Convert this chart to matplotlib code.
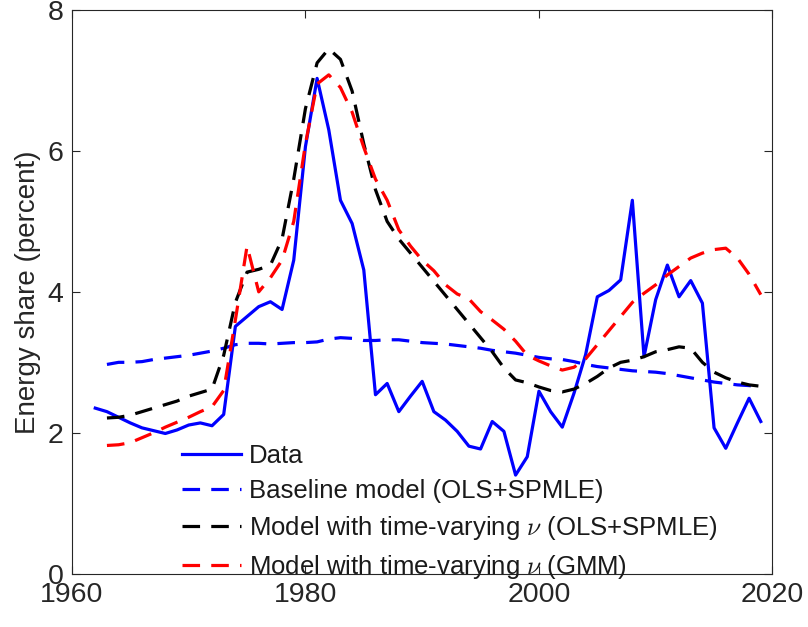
import numpy as np
import matplotlib
matplotlib.use("Agg")
import matplotlib.pyplot as plt

plt.rcParams['font.family'] = ['Liberation Sans', 'DejaVu Sans']
plt.rcParams['mathtext.fontset'] = 'cm'

# Energy share data, 1962-2019
data_years = list(range(1962, 2020))
data_share = [2.35, 2.30, 2.22, 2.14, 2.07, 2.03, 1.99, 2.04, 2.11, 2.14,
              2.10, 2.26, 3.51, 3.65, 3.79, 3.86, 3.75, 4.45, 6.06, 7.03,
              6.30, 5.30, 4.97, 4.31, 2.54, 2.70, 2.30, 2.52, 2.73, 2.30,
              2.18, 2.02, 1.81, 1.77, 2.16, 2.02, 1.40, 1.66, 2.59, 2.30,
              2.08, 2.56, 3.11, 3.93, 4.02, 4.17, 5.30, 3.08, 3.89, 4.38,
              3.93, 4.16, 3.84, 2.07, 1.78, 2.14, 2.49, 2.16]

# model series, 1963-2019
model_years = list(range(1963, 2020))
baseline = [2.97, 3.00, 3.00, 3.01, 3.04, 3.06, 3.08, 3.10, 3.13, 3.16,
            3.20, 3.25, 3.27, 3.27, 3.26, 3.27, 3.28, 3.28, 3.29, 3.33,
            3.35, 3.34, 3.31, 3.31, 3.32, 3.32, 3.30, 3.28, 3.27, 3.26,
            3.24, 3.22, 3.20, 3.17, 3.15, 3.13, 3.10, 3.07, 3.05, 3.04,
            3.01, 2.97, 2.94, 2.92, 2.90, 2.88, 2.87, 2.86, 2.84, 2.81,
            2.78, 2.75, 2.72, 2.70, 2.68, 2.67, 2.65]
tv_ols = [2.21, 2.22, 2.25, 2.30, 2.35, 2.40, 2.45, 2.52, 2.57, 2.62,
          3.10, 3.85, 4.28, 4.32, 4.38, 4.75, 5.60, 6.60, 7.25, 7.45,
          7.30, 6.85, 6.10, 5.45, 5.00, 4.75, 4.55, 4.35, 4.15, 3.95,
          3.75, 3.55, 3.35, 3.15, 2.92, 2.75, 2.71, 2.65, 2.60, 2.58,
          2.62, 2.70, 2.80, 2.92, 3.00, 3.03, 3.08, 3.15, 3.18, 3.22,
          3.20, 3.00, 2.86, 2.78, 2.72, 2.68, 2.66]
tv_gmm = [1.82, 1.83, 1.86, 1.93, 2.00, 2.08, 2.15, 2.22, 2.30, 2.37,
          2.60, 3.60, 4.65, 4.00, 4.20, 4.45, 5.00, 6.10, 6.95, 7.08,
          6.90, 6.55, 6.05, 5.60, 5.30, 4.88, 4.65, 4.45, 4.30, 4.10,
          3.97, 3.90, 3.72, 3.60, 3.47, 3.30, 3.10, 3.02, 2.95, 2.89,
          2.93, 3.05, 3.25, 3.45, 3.65, 3.85, 3.98, 4.10, 4.24, 4.36,
          4.48, 4.55, 4.60, 4.62, 4.48, 4.25, 3.96]

labels = ['Data',
          'Baseline model (OLS+SPMLE)',
          r'Model with time-varying $\nu$ (OLS+SPMLE)',
          r'Model with time-varying $\nu$ (GMM)']

fig = plt.figure(figsize=(8.08, 6.27), dpi=100)
ax = fig.add_axes([0.089, 0.085, 0.867, 0.899])

lw = 2.3
dash = (5.5, 3.5)
ax.plot(data_years, data_share, color='#0000ff', lw=lw, label=labels[0])
ax.plot(model_years, baseline, color='#0000ff', lw=lw, dashes=dash, label=labels[1])
ax.plot(model_years, tv_ols, color='black', lw=lw, dashes=dash, label=labels[2])
ax.plot(model_years, tv_gmm, color='#ff0000', lw=lw, dashes=dash, label=labels[3])

ax.set_xlim(1960, 2020)
ax.set_ylim(0, 8)
ax.set_xticks([1960, 1980, 2000, 2020])
ax.set_yticks([0, 2, 4, 6, 8])
ax.tick_params(direction='in', length=6, width=0.8, top=True, right=True,
               labelsize=20.5, colors='#262626', pad=6)
for s in ax.spines.values():
    s.set_color('#262626')
    s.set_linewidth(0.8)
ax.set_ylabel('Energy share (percent)', fontsize=20, color='#262626', labelpad=5)

leg = ax.legend(loc='upper left', bbox_to_anchor=(182 / 808, 1 - 444 / 627),
                bbox_transform=fig.transFigure, frameon=False, fontsize=18.5,
                handlelength=2.3, handletextpad=0.3, labelspacing=0.43,
                borderpad=0, borderaxespad=0)
for t in leg.get_texts():
    t.set_color('#1a1a1a')

fig.savefig('out.png', dpi=100)
